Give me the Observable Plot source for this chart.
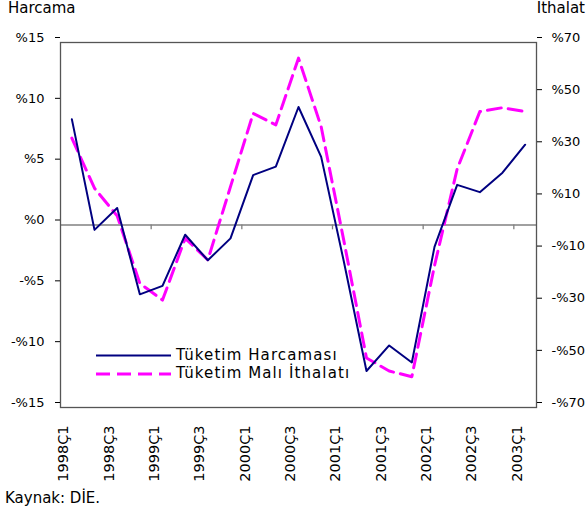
<!DOCTYPE html>
<html>
<head>
<meta charset="utf-8">
<script src="https://cdn.jsdelivr.net/npm/d3@7"></script>
<script src="https://cdn.jsdelivr.net/npm/@observablehq/plot@0.6"></script>
<style>
  html, body { margin: 0; padding: 0; background: #fff; }
  #wrap { position: relative; width: 587px; height: 514px; overflow: hidden; font-family: "DejaVu Sans", sans-serif; }
  #overlay { position: absolute; left: 0; top: 0; pointer-events: none; }
</style>
</head>
<body>
<div id="wrap"></div>
<script>
// ---- data ----
const quarters = ["1998Ç1","1998Ç2","1998Ç3","1998Ç4","1999Ç1","1999Ç2","1999Ç3","1999Ç4",
  "2000Ç1","2000Ç2","2000Ç3","2000Ç4","2001Ç1","2001Ç2","2001Ç3","2001Ç4",
  "2002Ç1","2002Ç2","2002Ç3","2002Ç4","2003Ç1"];
const harcama = [8.7, -0.4, 1.4, -5.7, -5.0, -0.8, -2.9, -1.1, 4.1, 4.8, 9.7, 5.6,
  -3.0, -12.0, -9.9, -11.3, -1.8, 3.3, 2.7, 4.3, 6.6];
const ithalat = [33.3, 14.1, 3.5, -22.4, -28.8, -5.1, -13.4, 14.7, 42.8, 38.4, 64.0, 37.7,
  -6.0, -51.0, -56.0, -58.2, -15.6, 21.5, 43.5, 45.0, 43.5];
const leftTicks = [15, 10, 5, 0, -5, -10, -15];
const rightTicks = [70, 50, 30, 10, -10, -30, -50, -70];
const seriesNames = ["Tüketim Harcaması", "Tüketim Malı İthalatı"];
const leftTitle = "Harcama";
const rightTitle = "İthalat";
const caption = "Kaynak: DİE.";
const colors = ["#000080", "#FF00FF"];

// ---- chart ----
const k = leftTicks[0] / rightTicks[0]; // map right-axis values onto left scale
const rows = quarters.map((q, i) => ({i, q, harcama: harcama[i], ithalat: ithalat[i]}));
const n = quarters.length;
const fmt = d => (d < 0 ? "-%" + (-d) : "%" + d);
const bounds = d3.range(4, n, 4).map(i => i - 0.5);

const chart = Plot.plot({
  width: 587,
  height: 490,
  marginTop: 42,
  marginBottom: 83,
  marginLeft: 60,
  marginRight: 51,
  style: {fontFamily: "DejaVu Sans, sans-serif", fontSize: "13px", color: "#000", background: "#fff"},
  x: {type: "linear", domain: [-0.5, n - 0.5]},
  y: {domain: [d3.min(leftTicks), d3.max(leftTicks)]},
  marks: [
    Plot.ruleY([0], {stroke: "#808080", strokeWidth: 1.3}),
    Plot.ruleX(bounds, {y1: 0, y2: -0.4, stroke: "#808080", strokeWidth: 1.3}),
    Plot.frame({stroke: "#555", strokeWidth: 1.3}),
    Plot.lineY(rows, {x: "i", y: d => d.ithalat * k, stroke: colors[1], strokeWidth: 3, strokeDasharray: "14,7"}),
    Plot.lineY(rows, {x: "i", y: "harcama", stroke: colors[0], strokeWidth: 2}),
    Plot.axisY(leftTicks, {anchor: "left", tickSize: 5, tickPadding: 11, tickFormat: fmt, dy: -5, label: null, fontSize: 13}),
    Plot.axisY(rightTicks.map(v => v * k), {anchor: "right", tickSize: 5, tickPadding: 10, tickFormat: d => fmt(Math.round(d / k)), dy: -5, label: null, fontSize: 13}),
    Plot.axisX(d3.range(0, n, 2), {anchor: "bottom", tickFormat: i => quarters[i], tickRotate: -90, tickSize: 0, tickPadding: 18, dx: -8, label: null, fontSize: 14.5})
  ]
});
const wrap = document.getElementById("wrap");
wrap.appendChild(chart);

// ---- overlay texts (titles, legend, caption) ----
const ov = d3.create("svg").attr("id", "overlay").attr("width", 587).attr("height", 514)
  .attr("font-family", "DejaVu Sans, sans-serif").attr("font-size", 15);
ov.append("text").attr("x", 8).attr("y", 13).text(leftTitle);
ov.append("text").attr("x", 585).attr("y", 13).attr("text-anchor", "end").text(rightTitle);
ov.append("text").attr("x", 5).attr("y", 503).text(caption);
const leg = [{y: 355.5, dash: null, w: 2}, {y: 374, dash: "14,7", w: 3}];
leg.forEach((l, j) => {
  ov.append("line").attr("x1", 96).attr("x2", 171).attr("y1", l.y).attr("y2", l.y)
    .attr("stroke", colors[j]).attr("stroke-width", l.w).attr("stroke-dasharray", l.dash);
  ov.append("text").attr("x", 176).attr("y", l.y + 4.5 - (j ? 1 : 0)).attr("letter-spacing", "1.1px").text(seriesNames[j]);
});
wrap.appendChild(ov.node());
</script>
</body>
</html>
